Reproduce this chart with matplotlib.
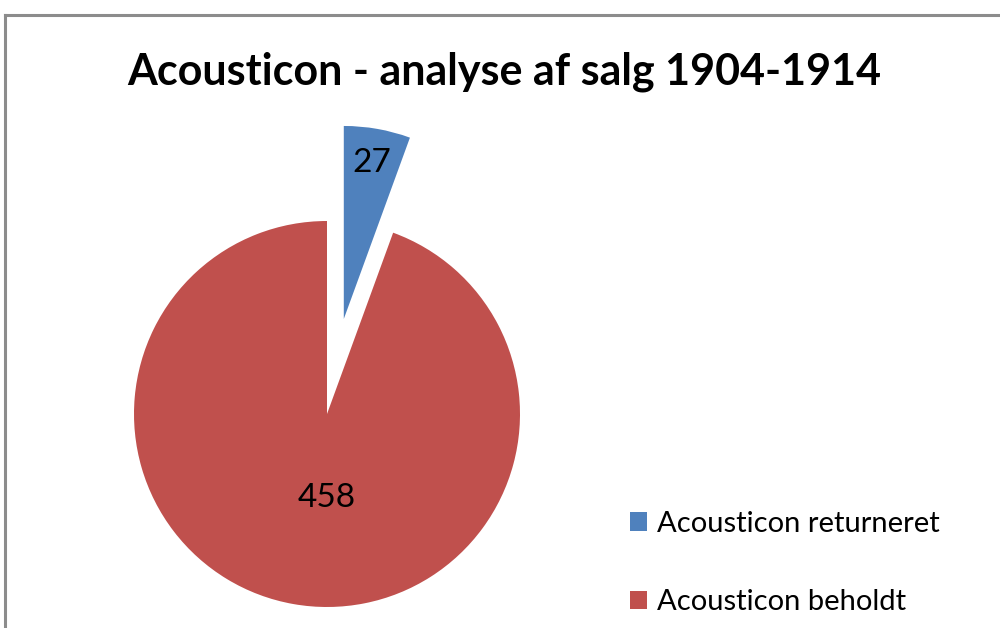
import matplotlib.pyplot as plt
import numpy as np
from matplotlib.lines import Line2D

labels = ["Acousticon returneret", "Acousticon beholdt"]
values = [27, 458]
colors = ["#4F81BD", "#C0504D"]
explode = [0.5, 0.0]
title = "Acousticon - analyse af salg 1904-1914"

plt.rcParams["font.family"] = ["Lato", "DejaVu Sans"]

fig = plt.figure(figsize=(10, 6.28), dpi=100)

# gray frame (top and left edges visible)
fig.add_artist(Line2D([0.005, 0.005], [0, 613 / 628], color="#8c8c8c", lw=2.2,
                      transform=fig.transFigure))
fig.add_artist(Line2D([0.005, 1.0], [613 / 628, 613 / 628], color="#8c8c8c", lw=2.2,
                      transform=fig.transFigure))

fig.text(0.504, 1 - 72 / 628, title, ha="center", va="center",
         fontsize=31, fontweight="bold")

ax = fig.add_axes([134 / 1000, 21 / 628, 386 / 1000, 386 / 628])
wedges, _ = ax.pie(values, colors=colors, explode=explode, startangle=90,
                   counterclock=False, radius=1.0,
                   wedgeprops=dict(clip_on=False, linewidth=0))
ax.set_xlim(-1, 1)
ax.set_ylim(-1, 1)
ax.set_aspect("equal")
ax.axis("off")

# value labels inside wedges
dists = [0.82, 0.44]
for w, v, d in zip(wedges, values, dists):
    mid = np.deg2rad((w.theta1 + w.theta2) / 2)
    cx, cy = w.center
    x, y = cx + d * np.cos(mid), cy + d * np.sin(mid)
    if v == max(values):
        x = cx  # big slice label sits under the centre
    ax.text(x, y, str(v), ha="center", va="center", fontsize=24, color="black")

fig.legend(wedges, labels, loc="upper left", bbox_to_anchor=(0.618, 1 - 499 / 628),
           frameon=False, fontsize=21, handlelength=0.6, handleheight=0.6,
           handletextpad=0.35, labelspacing=1.8, borderaxespad=0)

fig.savefig("out.png", dpi=100)
